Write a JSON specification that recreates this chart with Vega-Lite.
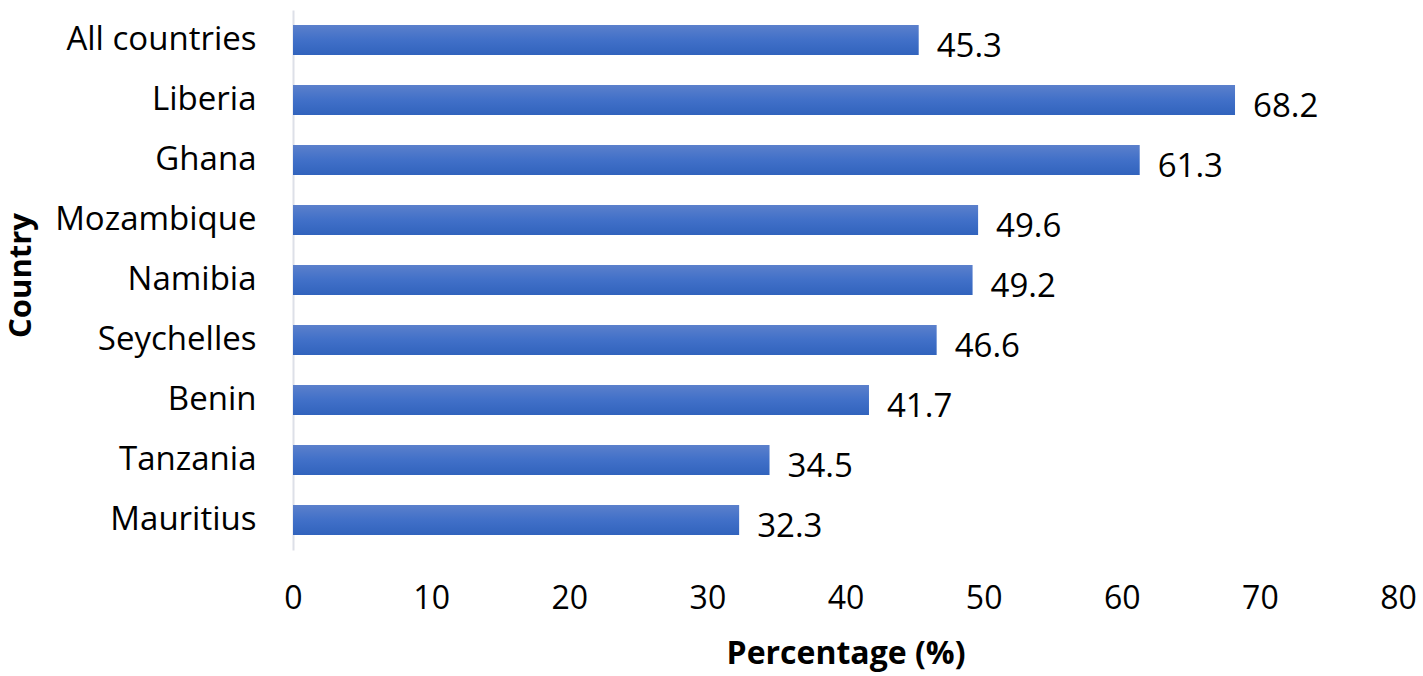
{
  "$schema": "https://vega.github.io/schema/vega-lite/v6.json",
  "autosize": "none",
  "width": 1105,
  "height": 540,
  "padding": {"left": 293, "top": 10, "right": 25, "bottom": 126},
  "background": "white",
  "data": {
    "values": [
      {"Country": "All countries", "Percentage": 45.3},
      {"Country": "Liberia", "Percentage": 68.2},
      {"Country": "Ghana", "Percentage": 61.3},
      {"Country": "Mozambique", "Percentage": 49.6},
      {"Country": "Namibia", "Percentage": 49.2},
      {"Country": "Seychelles", "Percentage": 46.6},
      {"Country": "Benin", "Percentage": 41.7},
      {"Country": "Tanzania", "Percentage": 34.5},
      {"Country": "Mauritius", "Percentage": 32.3}
    ]
  },
  "encoding": {
    "y": {
      "field": "Country",
      "type": "nominal",
      "sort": null,
      "title": "Country",
      "scale": {"paddingInner": 0.5, "paddingOuter": 0.25},
      "axis": {
        "domainColor": "#dde0e8",
        "domainWidth": 2,
        "ticks": false,
        "labelPadding": 37,
        "labelLimit": 400,
        "labelFontSize": 33,
        "labelFont": "Open Sans",
        "labelColor": "#000000",
        "titleFont": "Open Sans",
        "titleFontSize": 31,
        "titleFontWeight": "bold",
        "titleColor": "#000000",
        "titleX": -272,
        "titleY": 265,
        "titleAngle": -90,
        "titleBaseline": "middle",
        "titleAlign": "center"
      }
    },
    "x": {
      "field": "Percentage",
      "type": "quantitative",
      "title": "Percentage (%)",
      "scale": {"domain": [0, 80]},
      "axis": {
        "values": [0, 10, 20, 30, 40, 50, 60, 70, 80],
        "grid": false,
        "domain": false,
        "ticks": false,
        "labelPadding": 33,
        "labelFontSize": 32,
        "labelFont": "Open Sans",
        "labelColor": "#000000",
        "labelFlush": false,
        "titleFont": "Open Sans",
        "titleFontSize": 32,
        "titleFontWeight": "bold",
        "titleColor": "#000000",
        "titlePadding": 24
      }
    }
  },
  "layer": [
    {
      "mark": {
        "type": "bar",
        "color": {
          "gradient": "linear",
          "x1": 0, "y1": 0, "x2": 0, "y2": 1,
          "stops": [
            {"offset": 0, "color": "#5b80cc"},
            {"offset": 0.5, "color": "#4170c8"},
            {"offset": 1, "color": "#3163bd"}
          ]
        }
      }
    },
    {
      "mark": {
        "type": "text",
        "align": "left",
        "baseline": "middle",
        "dx": 18,
        "dy": 7,
        "font": "Open Sans",
        "fontSize": 33,
        "color": "#000000"
      },
      "encoding": {
        "text": {"field": "Percentage", "type": "quantitative", "format": ".1f"}
      }
    }
  ],
  "config": {"view": {"stroke": null}}
}
